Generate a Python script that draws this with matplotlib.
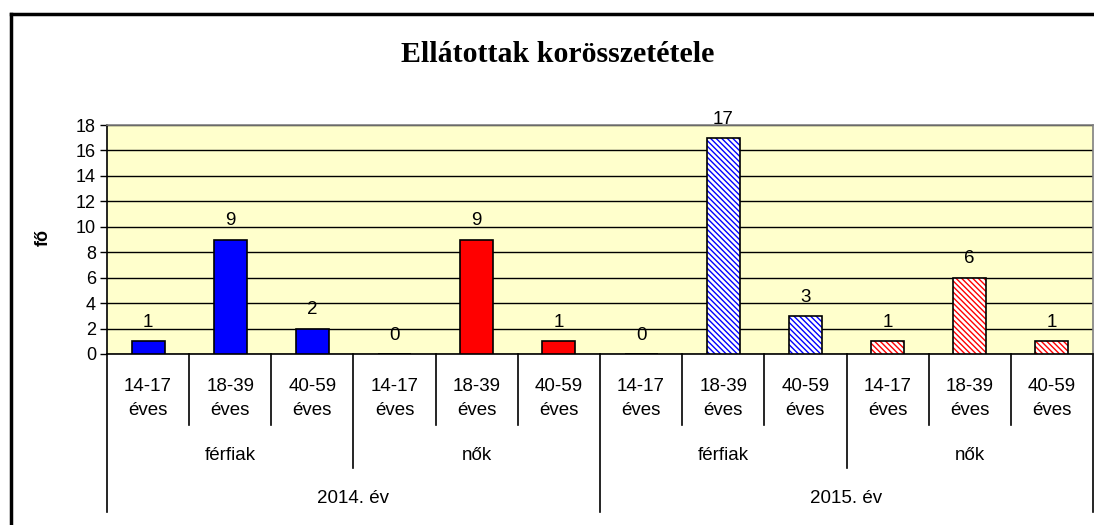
import matplotlib.pyplot as plt
from matplotlib.lines import Line2D
from matplotlib.transforms import blended_transform_factory

# Adatok: ellátottak száma évenként, nemenként és korcsoportonként
years = ['2014. év', '2015. év']
genders = ['férfiak', 'nők']
age_groups = ['14-17\néves', '18-39\néves', '40-59\néves']
men_2014 = [1, 9, 2]
women_2014 = [0, 9, 1]
men_2015 = [0, 17, 3]
women_2015 = [1, 6, 1]
yticks = [0, 2, 4, 6, 8, 10, 12, 14, 16, 18]

plt.rcParams['font.family'] = ['Liberation Sans', 'DejaVu Sans']
plt.rcParams['hatch.linewidth'] = 1.0

fig = plt.figure(figsize=(10.94, 5.25), dpi=100)
ax = fig.add_axes([107 / 1094, 171 / 525, 986 / 1094, 229 / 525])
ax.set_facecolor('#FFFFCC')

series = [
    (men_2014, '#0000FF', None),
    (women_2014, '#FF0000', None),
    (men_2015, '#0000FF', '\\' * 6),
    (women_2015, '#FF0000', '\\' * 6),
]

width = 0.4
pos = 0
for values, color, hatch in series:
    xs = [pos + i for i in range(len(values))]
    if hatch is None:
        ax.bar(xs, values, width, color=color, edgecolor='black', linewidth=1.2, zorder=3)
    else:
        ax.bar(xs, values, width, color='white', edgecolor=color, hatch=hatch,
               linewidth=0, zorder=3)
        ax.bar(xs, values, width, fill=False, edgecolor='black', linewidth=1.2, zorder=4)
    for x, v in zip(xs, values):
        ax.text(x, v + 0.8, str(v), ha='center', va='bottom', fontsize=13.5, clip_on=False)
    pos += len(values)

n = pos
ax.set_xlim(-0.5, n - 0.5)
ax.set_ylim(0, 18)
ax.set_yticks(yticks)
ax.tick_params(axis='y', labelsize=13, length=5, width=1, direction='out', pad=3)
ax.set_xticks([])
ax.grid(axis='y', color='black', linewidth=1, zorder=1)
ax.set_axisbelow(True)

for side in ['top', 'right']:
    ax.spines[side].set_color('#808080')
    ax.spines[side].set_linewidth(1.2)
for side in ['left', 'bottom']:
    ax.spines[side].set_color('black')
    ax.spines[side].set_linewidth(1.2)

# Többszintű kategóriatengely
trans = blended_transform_factory(ax.transData, ax.transAxes)

def vline(x, y_end):
    ax.add_line(Line2D([x, x], [0, y_end], transform=trans, color='black',
                       linewidth=1.2, clip_on=False))

for i in range(n + 1):
    b = i - 0.5
    if i % 6 == 0:
        vline(b, -0.69)
    elif i % 3 == 0:
        vline(b, -0.498)
    else:
        vline(b, -0.31)

for i in range(n):
    ax.text(i, -0.195, age_groups[i % 3], transform=trans, ha='center', va='center',
            fontsize=13.5, linespacing=1.5)
for g in range(n // 3):
    ax.text(g * 3 + 1, -0.445, genders[g % 2], transform=trans, ha='center',
            va='center', fontsize=13.5)
for y in range(n // 6):
    ax.text(y * 6 + 2.5, -0.629, years[y], transform=trans, ha='center',
            va='center', fontsize=13.5)

fig.text(558 / 1094, (525 - 54) / 525, 'Ellátottak korösszetétele', ha='center',
         va='center', fontsize=21.5, fontweight='bold', family='Liberation Serif')
fig.text(43 / 1094, (525 - 237) / 525, 'fő', rotation=90, ha='center', va='center',
         fontsize=13, fontweight='bold')

# A diagram keretének bal és felső széle
fig.add_artist(Line2D([11 / 1094, 11 / 1094], [0, 1 - 14 / 525], color='black',
                      linewidth=2.5, transform=fig.transFigure))
fig.add_artist(Line2D([11 / 1094, 1], [1 - 14 / 525, 1 - 14 / 525], color='black',
                      linewidth=2.5, transform=fig.transFigure))

fig.savefig('out.png', dpi=100)
